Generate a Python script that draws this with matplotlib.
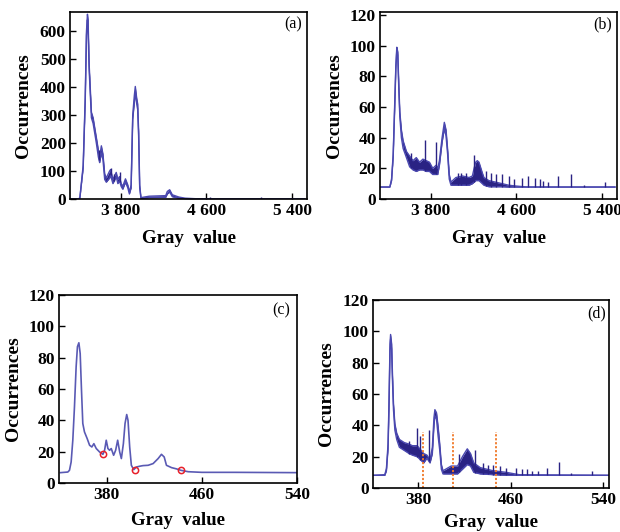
import matplotlib
matplotlib.use("Agg")
from matplotlib import pyplot as plt
import numpy as np

# ---- panel (a): histogram of raw image, envelope of the noisy trace
a_gray = [3326, 3403, 3418, 3449, 3468, 3480, 3489, 3495, 3505, 3526, 3542, 3557,
          3572, 3591, 3603, 3619, 3634, 3650, 3665, 3696, 3705, 3727, 3758, 3773,
          3788, 3804, 3819, 3844, 3866, 3881, 3897, 3912, 3927, 3936, 3949, 3958,
          3967, 3977, 3989, 4066, 4220, 4235, 4257, 4282, 4343, 4400, 4500, 5519]
a_low = [0, 0, 3, 110, 345, 585, 640, 600, 460, 290, 270, 235,
         200, 150, 130, 165, 140, 70, 60, 75, 85, 55, 80, 55,
         65, 45, 35, 60, 40, 18, 40, 285, 345, 380, 340, 320,
         225, 40, 2, 5, 6, 18, 25, 8, 3, 1, 0, 0]
a_high = [0, 0, 4, 120, 360, 600, 660, 640, 480, 310, 290, 255,
          220, 175, 150, 190, 160, 90, 75, 100, 105, 70, 95, 70,
          80, 55, 45, 72, 50, 25, 50, 300, 370, 402, 360, 340,
          245, 50, 5, 10, 12, 27, 33, 15, 7, 3, 1, 0]
a_spike_x = [3598, 3705, 3740, 3790, 4636, 5114]
a_spike_y = [175, 110, 90, 95, 6, 6]

# ---- panel (b)
b_gray = [3326, 3418, 3434, 3449, 3465, 3474, 3483, 3492, 3502, 3511, 3526, 3542,
          3573, 3603, 3634, 3665, 3696, 3727, 3758, 3788, 3819, 3850, 3865, 3881,
          3906, 3927, 3943, 3958, 3973, 3989, 4004, 4035, 4097, 4158, 4189, 4205,
          4220, 4235, 4251, 4282, 4297, 4343, 4405, 4467, 4528, 4590, 4700, 5521]
b_low = [7.8, 7.8, 12, 27, 63, 85, 97, 93, 71, 54, 40, 33,
         27, 21, 19, 18, 19, 19, 18, 18, 16, 16, 16, 22,
         37, 46, 41, 29, 13, 9, 9, 9, 9, 9, 10, 11,
         12, 12, 12, 10, 9, 8, 8, 8, 7.8, 7.8, 7.8, 7.8]
b_high = [7.8, 7.8, 13, 29, 66, 87, 99, 96, 74, 57, 45, 38,
          31, 28, 25, 27, 24, 26, 25, 24, 20, 22, 20, 25,
          40, 50, 45, 32, 16, 11, 12, 14, 15, 14, 15, 20,
          24, 25, 24, 17, 14, 12, 11, 10, 9, 8.5, 7.8, 7.8]
b_spike_x = [3619, 3742, 3850, 4205, 4051, 4081, 4128, 4313, 4359, 4405, 4467,
             4528, 4575, 4652, 4713, 4775, 4821, 4852, 4898, 4991, 5114, 5232, 5432]
b_spike_y = [30, 38.6, 37.5, 28.9, 17, 17, 17, 18, 17, 16, 16,
             15, 13, 14, 15, 14, 13, 12, 11, 14.8, 16.5, 9.3, 10.8]

# ---- panel (c): smoothed histogram with minima marked
c_gray = [341.2, 347.4, 348.8, 350.2, 351.6, 353.0, 354.4, 355.5, 356.7, 357.8,
          358.9, 360.0, 361.4, 363.7, 365.7, 367.6, 369.3, 371.3, 374.1, 376.9,
          378.3, 379.7, 381.1, 382.5, 383.9, 385.9, 387.6, 389.3, 391.0, 392.4,
          394.1, 395.5, 396.9, 398.0, 399.4, 400.8, 402.8, 405.0, 407.8, 410.6,
          414.9, 419.1, 423.3, 426.1, 428.4, 430.3, 434.6, 438.8, 442.4, 448.6,
          460.0, 488.0, 541.4]
c_count = [6.6, 7.0, 8.1, 13.4, 27.3, 48.6, 74.2, 87.0, 89.5, 82.7,
           59.3, 38.0, 32.6, 28.3, 24.1, 23.0, 25.1, 22.0, 19.8, 18.3,
           20.9, 27.3, 22.0, 20.9, 22.0, 17.7, 20.9, 27.3, 19.8, 15.6,
           25.1, 38.0, 43.7, 40.0, 23.0, 11.3, 8.5, 10.2, 10.7, 11.1,
           11.3, 12.4, 15.6, 18.3, 16.6, 11.3, 9.8, 9.0, 8.1, 7.2,
           6.8, 6.8, 6.6]
c_min_x = [377.0, 403.6, 442.4]
c_min_y = [18.3, 8.5, 8.3]

# ---- panel (d)
d_gray = [341.4, 351.2, 352.6, 354.0, 354.8, 355.7, 356.2, 357.1, 357.9, 358.7,
          359.9, 361.5, 363.8, 368.0, 372.2, 375.0, 379.2, 384.8, 387.6, 390.3,
          392.3, 393.7, 394.5, 395.9, 397.3, 398.7, 400.1, 401.5, 408.5, 414.1,
          418.3, 422.5, 425.3, 428.1, 433.7, 444.9, 456.1, 467.3, 545.0]
d_low = [8.1, 8.1, 11, 25, 50, 88, 95, 88, 67, 50,
         37, 31, 26, 24, 22, 21, 20, 16, 19, 16,
         22, 40, 46, 44, 33, 24, 12, 9, 9, 9,
         12, 15, 14, 10, 9, 8.5, 8.1, 8.1, 8.1]
d_high = [8.1, 8.5, 12.5, 28, 54, 92, 98, 92, 71, 54,
          41, 35, 31, 29, 28, 27, 27, 22, 21, 18,
          26, 45, 50, 48, 39, 28, 15, 11, 14, 14,
          20, 25, 22, 16, 13, 11, 10, 8.5, 8.1]
d_spike_x = [372.2, 378.9, 382.0, 389.0, 415.5, 429.5, 436.5, 440.7, 444.9, 450.5,
             456.1, 464.5, 470.1, 474.3, 478.5, 484.0, 491.0, 501.4, 512.0, 530.0]
d_spike_y = [29.7, 38, 33, 37, 22, 24, 16, 15, 15, 14,
             13, 13, 12, 12, 11, 11, 12.7, 16.4, 9.5, 10.6]
d_thresholds = [384.2, 410.0, 447.0]
d_thr_top = 36

NAVY = "#2a2384"
EDGE = "#4a48b0"
SERIF = ["Liberation Serif", "DejaVu Serif"]

fig = plt.figure(figsize=(6.2, 5.32), dpi=100)
W, H = 620.0, 532.0


def make_axes(left, top, right, bottom):
    return fig.add_axes([left / W, 1 - bottom / H, (right - left) / W, (bottom - top) / H])


def style(ax, tag, tag_x, tag_y, xlab_y, ylab_x):
    ax.tick_params(direction="in", length=4, width=1, top=False, right=False, pad=3)
    for lab in ax.get_xticklabels() + ax.get_yticklabels():
        lab.set_fontfamily(SERIF)
        lab.set_fontweight("bold")
        lab.set_fontsize(12.5)
    for sp in ax.spines.values():
        sp.set_linewidth(1.2)
    ax.set_xlabel("Gray  value", fontsize=13.5, fontweight="bold", family=SERIF)
    ax.set_ylabel("Occurrences", fontsize=14, fontweight="bold", family=SERIF)
    ax.xaxis.set_label_coords(0.5, xlab_y)
    ax.yaxis.set_label_coords(ylab_x, 0.5)
    ax.text(tag_x, tag_y, tag, transform=ax.transAxes, ha="right", va="center",
            fontsize=11.5, family=SERIF)


def noisy(ax, x, lo, hi, sx, sy):
    ax.fill_between(x, lo, hi, color=NAVY, lw=0)
    ax.plot(x, lo, color=EDGE, lw=1.0)
    ax.plot(x, hi, color=EDGE, lw=1.0)
    ax.vlines(sx, np.interp(sx, x, lo), sy, color=NAVY, lw=1.0)


# (a)
ax = make_axes(70, 12, 307, 199)
noisy(ax, a_gray, a_low, a_high, a_spike_x, a_spike_y)
ax.set_xlim(3326, 5540)
ax.set_ylim(0, 668)
ax.set_xticks([3800, 4600, 5400], ["3 800", "4 600", "5 400"])
ax.set_yticks(range(0, 601, 100))
style(ax, "(a)", 0.98, 0.936, -0.166, -0.16)

# (b)
ax = make_axes(380, 12, 617, 199)
noisy(ax, b_gray, b_low, b_high, b_spike_x, b_spike_y)
ax.set_xlim(3326, 5540)
ax.set_ylim(0, 122)
ax.set_xticks([3800, 4600, 5400], ["3 800", "4 600", "5 400"])
ax.set_yticks(range(0, 121, 20))
style(ax, "(b)", 0.98, 0.936, -0.166, -0.156)

# (c)
ax = make_axes(59, 295, 297, 483)
ax.plot(c_gray, c_count, color="#5a5ab4", lw=1.2)
ax.plot(c_min_x, c_min_y, "o", mfc="none", mec="#e8202a", mew=1.1, ms=4.5)
ax.set_xlim(340, 540)
ax.set_ylim(0, 120)
ax.set_xticks([380, 460, 540])
ax.set_yticks(range(0, 121, 20))
style(ax, "(c)", 0.97, 0.92, -0.154, -0.155)

# (d)
ax = make_axes(373, 300, 609, 488)
noisy(ax, d_gray, d_low, d_high, d_spike_x, d_spike_y)
ax.vlines(d_thresholds, 0, d_thr_top, color="#f07828", lw=1.3, linestyles=(0, (1.2, 1.0)))
ax.set_xlim(341, 545)
ax.set_ylim(0, 120)
ax.set_xticks([380, 460, 540])
ax.set_yticks(range(0, 121, 20))
style(ax, "(d)", 0.987, 0.93, -0.14, -0.161)

fig.savefig("out.png", dpi=100)
